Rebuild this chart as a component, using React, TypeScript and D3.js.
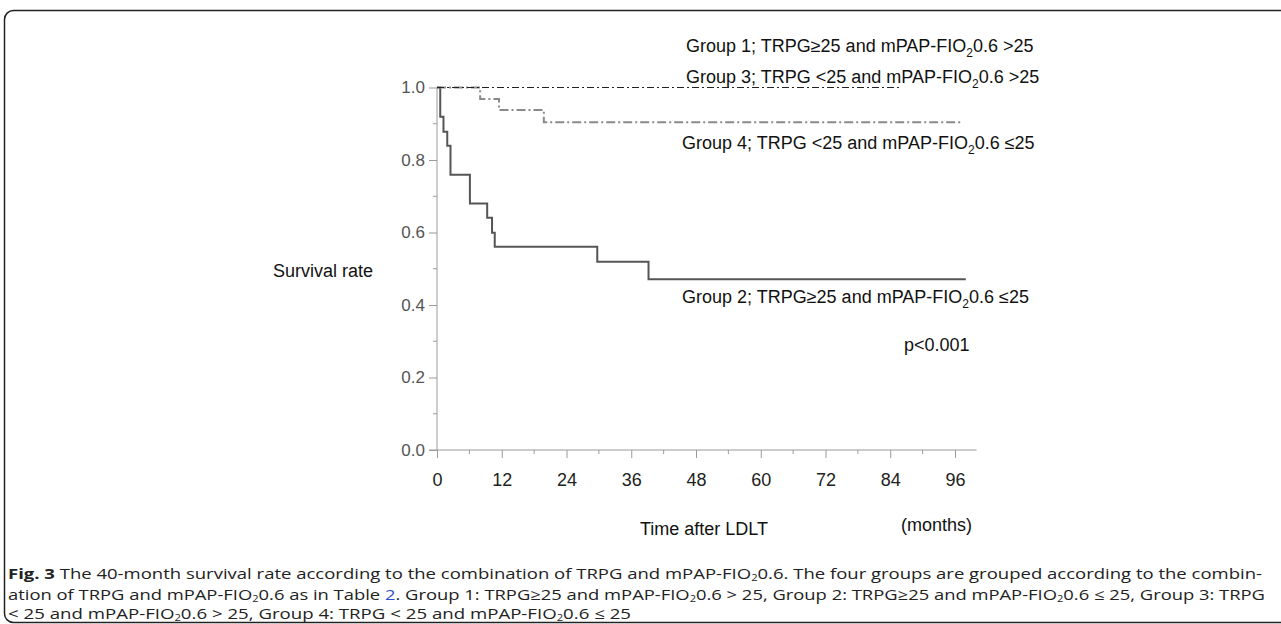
import { useRef, useEffect } from 'react';
import * as d3 from 'd3';

// survival curves (months, survival rate)
const group1Times = [0, 86];
const group1Values = [1, 1];
const group4Times = [0, 8, 11.5, 19.8, 97];
const group4Values = [1, 0.968, 0.938, 0.904, 0.904];
const group2Times = [0, 0.6, 1.2, 1.9, 2.5, 6.1, 9.3, 10.2, 10.7, 29.7, 39.2, 98];
const group2Values = [1, 0.919, 0.878, 0.839, 0.759, 0.68, 0.641, 0.599, 0.561, 0.519, 0.471, 0.471];

const xTicks = [0, 12, 24, 36, 48, 60, 72, 84, 96];
const xMinorTicks = [6, 18, 30, 42, 54, 66, 78, 90];
const yTicks = [0, 0.2, 0.4, 0.6, 0.8, 1.0];
const yMinorTicks = [0.1, 0.3, 0.5, 0.7, 0.9];

const groupLabels = [
    { pre: 'Group 1; TRPG≥25 and mPAP-FIO', post: '0.6 >25' },
    { pre: 'Group 3; TRPG <25 and mPAP-FIO', post: '0.6 >25' },
    { pre: 'Group 4; TRPG <25 and mPAP-FIO', post: '0.6 ≤25' },
    { pre: 'Group 2; TRPG≥25 and mPAP-FIO', post: '0.6 ≤25' },
];

export default function App() {
    const svgRef = useRef<SVGSVGElement>(null);

    useEffect(() => {
        const svg = d3.select(svgRef.current);
        svg.selectAll('*').remove();

        const x = d3.scaleLinear().domain([0, 100]).range([437, 976.6]);
        const y = d3.scaleLinear().domain([0, 1]).range([450, 87.5]);
        const sans = 'Liberation Sans, Arial, sans-serif';

        // frame
        svg.append('rect')
            .attr('x', 4.5).attr('y', 10.5)
            .attr('width', 1300).attr('height', 612)
            .attr('rx', 9)
            .attr('fill', 'none')
            .attr('stroke', '#222')
            .attr('stroke-width', 1.5);

        const axisColor = '#9a9a9a';

        // y axis
        const yAxis = svg.append('g')
            .attr('transform', `translate(${x(0)},0)`)
            .call(d3.axisLeft(y).tickValues(yTicks).tickFormat(d3.format('.1f')).tickSize(8).tickPadding(4));
        yAxis.select('.domain').attr('stroke', axisColor).attr('d', `M0,${y(0)}V${y(1)}`);
        yAxis.selectAll('.tick line').attr('stroke', axisColor);
        yAxis.selectAll('.tick text')
            .attr('fill', '#555')
            .style('font-family', sans)
            .style('font-size', '17px');
        svg.append('g')
            .attr('transform', `translate(${x(0)},0)`)
            .selectAll('line')
            .data(yMinorTicks)
            .enter()
            .append('line')
            .attr('x1', -4).attr('x2', 0)
            .attr('y1', d => y(d)).attr('y2', d => y(d))
            .attr('stroke', axisColor);

        // x axis
        const xAxis = svg.append('g')
            .attr('transform', `translate(0,${y(0)})`)
            .call(d3.axisBottom(x).tickValues(xTicks).tickFormat(d3.format('d')).tickSize(8).tickPadding(15));
        xAxis.select('.domain').attr('stroke', axisColor).attr('d', `M${x(0) - 8},0H${x(100)}`);
        xAxis.selectAll('.tick line').attr('stroke', axisColor);
        xAxis.selectAll('.tick text')
            .attr('fill', '#222')
            .style('font-family', sans)
            .style('font-size', '18px');
        svg.append('g')
            .attr('transform', `translate(0,${y(0)})`)
            .selectAll('line')
            .data(xMinorTicks)
            .enter()
            .append('line')
            .attr('x1', d => x(d)).attr('x2', d => x(d))
            .attr('y1', 0).attr('y2', 4)
            .attr('stroke', axisColor);

        // step curves
        const step = d3.line<[number, number]>()
            .x(d => x(d[0]))
            .y(d => y(d[1]))
            .curve(d3.curveStepAfter);

        svg.append('path')
            .attr('d', step(group2Times.map((t, i) => [t, group2Values[i]] as [number, number])))
            .attr('fill', 'none')
            .attr('stroke', '#555')
            .attr('stroke-width', 2);

        svg.append('path')
            .attr('d', step(group4Times.map((t, i) => [t, group4Values[i]] as [number, number])))
            .attr('fill', 'none')
            .attr('stroke', '#8a8a8a')
            .attr('stroke-width', 2)
            .attr('stroke-dasharray', '9,3,2,3');

        svg.append('path')
            .attr('d', step(group1Times.map((t, i) => [t, group1Values[i]] as [number, number])))
            .attr('fill', 'none')
            .attr('stroke', '#222')
            .attr('stroke-width', 1.2)
            .attr('stroke-dasharray', '7,3,2,3');

        // group labels
        const labelPos = [[686, 52], [686, 83], [682, 149], [682, 303]];
        groupLabels.forEach((lab, i) => {
            const t = svg.append('text')
                .attr('x', labelPos[i][0])
                .attr('y', labelPos[i][1])
                .style('font-family', sans)
                .style('font-size', '18px')
                .attr('fill', '#111');
            t.append('tspan').text(lab.pre);
            t.append('tspan').attr('dy', 5).style('font-size', '12px').text('2');
            t.append('tspan').attr('dy', -5).text(lab.post);
        });

        const plain = (tx: string, px: number, py: number, size: number, anchor = 'start') =>
            svg.append('text')
                .attr('x', px).attr('y', py)
                .attr('text-anchor', anchor)
                .style('font-family', sans)
                .style('font-size', `${size}px`)
                .attr('fill', '#111')
                .text(tx);

        plain('p<0.001', 904, 351, 18);
        plain('Survival rate', 273, 277, 18);
        plain('Time after LDLT', 704, 535, 18, 'middle');
        plain('(months)', 901, 531, 18);

        // caption
        const capFont = 'Open Sans, Noto Sans, sans-serif';
        const cap = (py: number, len: number) =>
            svg.append('text')
                .attr('x', 8).attr('y', py)
                .attr('textLength', len)
                .attr('lengthAdjust', 'spacingAndGlyphs')
                .style('font-family', capFont)
                .style('font-size', '15px')
                .attr('fill', '#222');
        const sub = (t: d3.Selection<SVGTextElement, unknown, null, undefined>, rest: string) => {
            t.append('tspan').attr('dy', 2).style('font-size', '9px').text('2');
            t.append('tspan').attr('dy', -2).text(rest);
        };

        const c1 = cap(579, 1254);
        c1.append('tspan').style('font-weight', 'bold').text('Fig. 3');
        c1.append('tspan').text(' The 40-month  survival rate according to the combination of TRPG and mPAP-FIO');
        sub(c1, '0.6. The four groups are grouped according to the combin-');

        const c2 = cap(600, 1257);
        c2.append('tspan').text('ation of TRPG and mPAP-FIO');
        sub(c2, '0.6 as in Table ');
        c2.append('tspan').attr('fill', '#2a4fd0').text('2');
        c2.append('tspan').text('. Group 1: TRPG≥25 and mPAP-FIO');
        sub(c2, '0.6 > 25, Group 2: TRPG≥25 and mPAP-FIO');
        sub(c2, '0.6 ≤ 25, Group 3: TRPG');

        const c3 = cap(619, 623);
        c3.append('tspan').text('< 25 and mPAP-FIO');
        sub(c3, '0.6 > 25, Group 4: TRPG < 25 and mPAP-FIO');
        sub(c3, '0.6 ≤ 25');
    }, []);

    return (
        <svg
            ref={svgRef}
            width={1281}
            height={624}
            style={{ position: 'fixed', left: 0, top: 0, background: '#fff' }}
        />
    );
}
